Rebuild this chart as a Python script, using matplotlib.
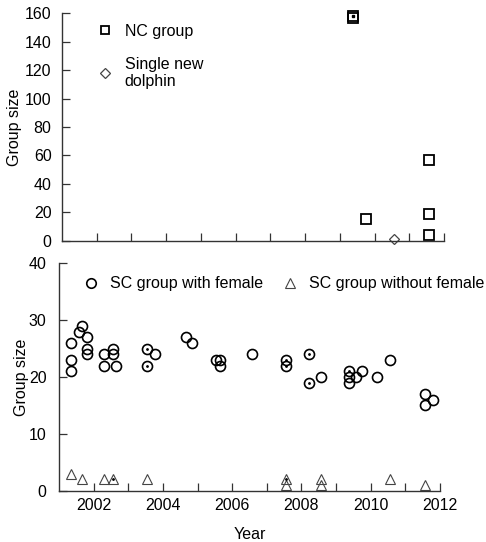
import matplotlib
matplotlib.use('Agg')
import matplotlib.pyplot as plt

plt.rcParams['font.family'] = ['Liberation Sans', 'DejaVu Sans']
plt.rcParams['font.size'] = 11.5

# 上段: NC group と single new dolphin
nc_year = [2009.38, 2009.38, 2009.75, 2011.57, 2011.57, 2011.57]
nc_size = [157, 158, 15, 57, 19, 4]
single_year = [2010.56]
single_size = [1]

# 下段: SC group
scf_year = [2001.34, 2001.34, 2001.34, 2001.59, 2001.66, 2001.81, 2001.81, 2001.81,
            2002.29, 2002.29, 2002.56, 2002.56, 2002.64, 2003.54, 2003.54, 2003.78,
            2004.68, 2004.83, 2005.53, 2005.65, 2005.65, 2006.56, 2007.54, 2007.54,
            2008.23, 2008.23, 2008.57, 2009.37, 2009.37, 2009.37, 2009.57, 2009.74,
            2010.18, 2010.57, 2011.57, 2011.57, 2011.80]
scf_size = [26, 23, 21, 28, 29, 27, 25, 24,
            24, 22, 25, 24, 22, 25, 22, 24,
            27, 26, 23, 23, 22, 24, 23, 22,
            24, 19, 20, 21, 20, 19, 20, 21,
            20, 23, 17, 15, 16]
scn_year = [2001.34, 2001.66, 2002.29, 2002.56, 2003.54, 2007.54, 2007.54,
            2008.57, 2008.57, 2010.57, 2011.57]
scn_size = [3, 2, 2, 2, 2, 2, 1, 2, 1, 2, 1]
# 重なりを示す点
dot_year = [2003.54, 2003.54, 2007.54, 2007.54, 2008.23, 2008.23, 2009.37, 2002.56, 2007.54]
dot_size = [25, 22, 23, 22, 24, 19, 21, 2, 2]

year_ticks = list(range(2002, 2013))
year_labels = [str(y) if y % 2 == 0 else '' for y in year_ticks]

fig = plt.figure(figsize=(4.86, 5.42), dpi=100)
ax1 = fig.add_axes([0.1276, 0.5559, 0.786, 0.4195])
ax2 = fig.add_axes([0.1214, 0.0947, 0.7839, 0.4195])

for ax in (ax1, ax2):
    ax.spines['top'].set_visible(False)
    ax.spines['right'].set_visible(False)
    for s in ('left', 'bottom'):
        ax.spines[s].set_linewidth(1.0)
        ax.spines[s].set_color('#333333')
    ax.tick_params(direction='in', length=5.5, width=0.9, color='#333333')
    ax.tick_params(axis='x', pad=5)
    ax.set_xlim(2001, 2012)
    ax.set_xticks(year_ticks)
ax1.tick_params(axis='y', pad=7.5)
ax2.tick_params(axis='y', pad=9)

ax1.plot(nc_year, nc_size, 's', ms=6.5, mfc='none', mec='black', mew=1.3,
         clip_on=False, label='NC group')
ax1.plot(single_year, single_size, 'D', ms=5.5, mfc='white', mec='#444444', mew=0.9,
         clip_on=False, label='Single new\ndolphin')
ax1.plot([2009.38], [158], 'ks', ms=1.5)
ax1.set_ylim(0, 160)
ax1.set_yticks(range(0, 161, 20))
ax1.set_xticklabels([])
ax1.set_ylabel('Group size')
ax1.yaxis.set_label_coords(-0.105, 0.5)
ax1.legend(loc='upper left', bbox_to_anchor=(0.055, 1.016), frameon=False,
           handletextpad=0.7, labelspacing=1.1, handlelength=1.0, markerscale=0.95)

ax2.plot(scf_year, scf_size, 'o', ms=7.2, mfc='none', mec='black', mew=1.2,
         clip_on=False, label='SC group with female')
ax2.plot(scn_year, scn_size, '^', ms=7, mfc='none', mec='#444444', mew=0.8,
         clip_on=False, label='SC group without female')
ax2.plot(dot_year, dot_size, 'k.', ms=2)
ax2.set_ylim(0, 40)
ax2.set_yticks(range(0, 41, 10))
ax2.set_xticklabels(year_labels)
ax2.set_ylabel('Group size')
ax2.yaxis.set_label_coords(-0.08, 0.5)
ax2.set_xlabel('Year', labelpad=10)
ax2.legend(loc='upper left', bbox_to_anchor=(0.037, 0.985), frameon=False, ncol=2,
           handletextpad=0.7, columnspacing=1.2, handlelength=1.0, markerscale=0.95,
           borderaxespad=0.2)

fig.savefig('out.png', dpi=100)
